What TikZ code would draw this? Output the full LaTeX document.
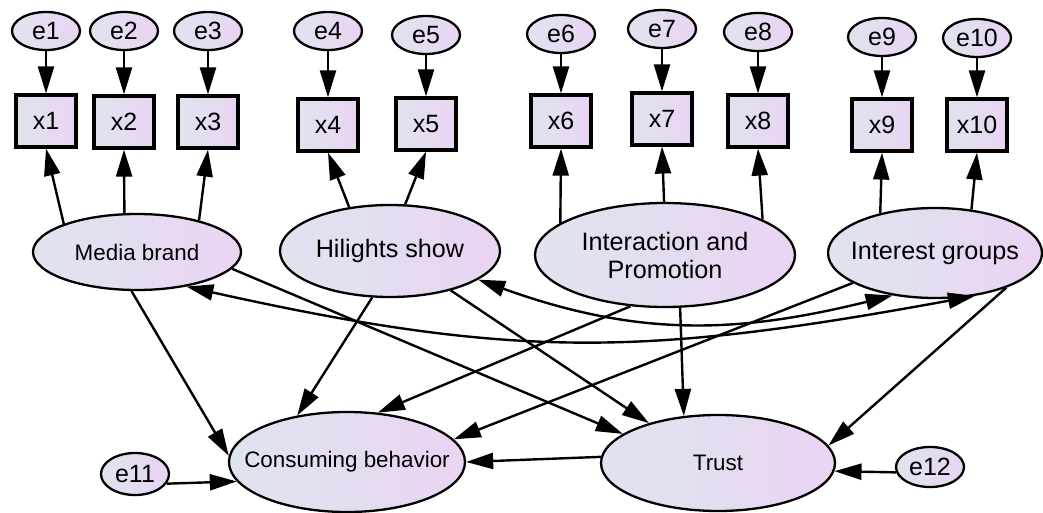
\documentclass[tikz,border=0pt]{standalone}
\usepackage{fontspec}
\setmainfont{Liberation Sans}
\usetikzlibrary{arrows.meta,shapes.geometric}
\definecolor{fillL}{RGB}{223,228,238}
\definecolor{fillR}{RGB}{234,212,243}

\begin{document}
\begin{tikzpicture}[x=0.5pt,y=-0.5pt,
  every node/.style={inner sep=0pt},
  shaded/.style={left color=fillL, right color=fillR, draw=black, line width=1.15pt},
  errvar/.style={shaded, ellipse, minimum width=34pt, minimum height=19pt,
    font=\fontsize{12.5}{14}\selectfont},
  obsvar/.style={shaded, rectangle, line width=1.6pt, minimum width=30pt,
    minimum height=26pt, font=\fontsize{12.5}{14}\selectfont},
  latvar/.style={shaded, ellipse},
  smalltxt/.style={font=\fontsize{11.2}{13}\selectfont},
  bigtxt/.style={font=\fontsize{12.6}{14}\selectfont, align=center},
  >={Triangle[length=13.5pt,width=8pt]},
  link/.style={line width=1.2pt, ->},
  covar/.style={line width=1.2pt, <->},
]
\useasboundingbox (0,0) rectangle (1043,513);

% error terms of the indicators
\node[errvar] (e1)  at (46,31)  {e1};
\node[errvar] (e2)  at (124,31) {e2};
\node[errvar] (e3)  at (208,31) {e3};
\node[errvar] (e4)  at (328,31) {e4};
\node[errvar] (e5)  at (426,35) {e5};
\node[errvar] (e6)  at (561,34) {e6};
\node[errvar] (e7)  at (662,29) {e7};
\node[errvar] (e8)  at (758,32) {e8};
\node[errvar] (e9)  at (882,37) {e9};
\node[errvar] (e10) at (977,38) {e10};

% observed indicators
\node[obsvar] (x1)  at (46,121)  {x1};
\node[obsvar] (x2)  at (124,122) {x2};
\node[obsvar] (x3)  at (208,122) {x3};
\node[obsvar] (x4)  at (328,125) {x4};
\node[obsvar] (x5)  at (426,124) {x5};
\node[obsvar] (x6)  at (561,121) {x6};
\node[obsvar] (x7)  at (662,119) {x7};
\node[obsvar] (x8)  at (758,121) {x8};
\node[obsvar] (x9)  at (882,125) {x9};
\node[obsvar] (x10) at (977,125) {x10};

% latent constructs
\node[latvar, minimum width=104pt, minimum height=38pt,
  label={[smalltxt]center:Media brand}] (mb) at (137,252) {};
\node[latvar, minimum width=110pt, minimum height=46pt,
  label={[bigtxt]center:Hilights show}] (hs) at (390,251) {};
\node[latvar, minimum width=130pt, minimum height=52pt,
  label={[bigtxt]center:{Interaction and\\Promotion}}] (ip) at (665,255) {};
\node[latvar, minimum width=107pt, minimum height=45pt,
  label={[bigtxt]center:Interest groups}] (ig) at (935,253) {};
\node[latvar, minimum width=118pt, minimum height=50pt,
  label={[smalltxt]center:Consuming behavior}] (cb) at (347,462) {};
\node[latvar, minimum width=117pt, minimum height=48pt,
  label={[smalltxt]center:Trust}] (tr) at (718,463) {};

% structural residuals
\node[errvar, minimum height=21pt] (e11) at (135,474) {e11};
\node[errvar, minimum height=20pt] (e12) at (930,467) {e12};

% measurement errors
\foreach \i in {1,...,10} \draw[link] (e\i) -- (x\i);

% loadings
\draw[link] (mb.159) -- (x1.south);
\draw[link] (mb.108) -- (x2.south);
\draw[link] (mb.27)  -- (x3.south);
\draw[link] (hs.133) -- (x4.south);
\draw[link] (hs.72)  -- (x5.south);
\draw[link] (ip.163) -- (x6.south);
\draw[link] (ip.91)  -- (x7.south);
\draw[link] (ip.20)  -- (x8.south);
\draw[link] (ig.144) -- (x9.south);
\draw[link] (ig.50)  -- (x10.south);

% structural paths
\draw[link] (mb.262)   -- (cb.177);
\draw[link] (mb.-10.6) -- (tr.163);
\draw[link] (hs.249)   -- (cb.137);
\draw[link] (hs.-33)   -- (tr.150);
\draw[link] (ip.236)   -- (cb.58);
\draw[link] (ip.-74)   -- (tr.126);
\draw[link] (ig.200.6) -- (cb.12);
\draw[link] (ig.-26)   -- (tr.9);
\draw[link] (tr.177)   -- (cb.0);
\draw[link] (e11.-17)  -- (cb.190);
\draw[link] (e12.189)  -- (tr.-4);

% covariances
\draw[covar] (mb.-35.5) .. controls (516,360) and (647,356) .. (ig.313.7);
\draw[covar] (hs.-18) .. controls (640,338) and (740,333) .. (ig.225);
\end{tikzpicture}
\end{document}
